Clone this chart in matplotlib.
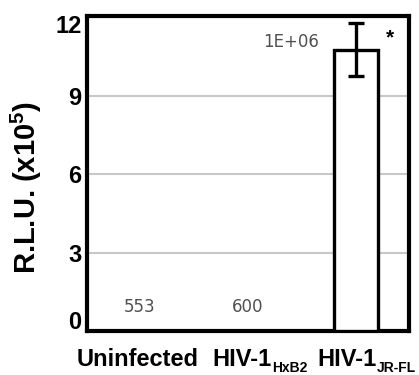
import matplotlib
matplotlib.use("Agg")
import matplotlib.pyplot as plt
import matplotlib.transforms as mtransforms

# Luciferase readout (R.L.U. x 10^5)
groups = ["Uninfected", "HIV-1", "HIV-1"]
group_subs = ["", "HxB2", "JR-FL"]
rlu = [553e-5, 600e-5, 10.75]
err_low = [0.0, 0.0, 1.0]
err_high = [0.0, 0.0, 1.05]
bar_labels = ["553", "600", "1E+06"]
y_ticks = [0, 3, 6, 9, 12]

plt.rcParams["font.family"] = ["Liberation Sans", "DejaVu Sans"]
plt.rcParams["mathtext.fontset"] = "custom"
plt.rcParams["mathtext.rm"] = "Liberation Sans:bold"
plt.rcParams["mathtext.bf"] = "Liberation Sans:bold"

fig = plt.figure(figsize=(4.19, 3.75), dpi=100)
ax = fig.add_axes([87 / 419, 1 - 331 / 375, 322 / 419, 315 / 375])

x = list(range(len(groups)))
ax.bar(x, rlu, width=0.4, color="white", edgecolor="black", linewidth=2.4, zorder=3)
ax.errorbar(x[2], rlu[2], yerr=[[err_low[2]], [err_high[2]]], fmt="none",
            ecolor="black", elinewidth=2.4, capsize=5.5, capthick=2.4, zorder=4)

# value labels in grey, as in the source figure
label_style = dict(ha="center", va="center", color="#505050", fontsize=12,
                   family="DejaVu Sans")
ax.text(x[0], 0.92, bar_labels[0], **label_style)
ax.text(x[1], 0.92, bar_labels[1], **label_style)
ax.text(x[2] - 0.6, 11.07, bar_labels[2], **label_style)
ax.text(x[2] + 0.31, 11.2, "*", ha="center", va="center", color="black",
        fontsize=15, fontweight="bold")

ax.set_xlim(-0.49, 2.49)
ax.set_ylim(0, 12.05)
ax.set_yticks(y_ticks)
ax.set_yticklabels([str(t) for t in y_ticks], fontsize=17, fontweight="bold")
ax.tick_params(length=0, pad=4)

# the end labels are nudged inside the frame, like the original export
fig.canvas.draw()
tick_labels = ax.get_yticklabels()
tick_labels[0].set_transform(tick_labels[0].get_transform()
                             + mtransforms.ScaledTranslation(0, 8 / 72, fig.dpi_scale_trans))
tick_labels[-1].set_transform(tick_labels[-1].get_transform()
                              + mtransforms.ScaledTranslation(0, -5 / 72, fig.dpi_scale_trans))

# category labels sit a bit right of the bars and nearly touch each other
ax.set_xticks([])
label_x = [-0.02, 0.667, 1.639]
label_ha = ["center", "left", "left"]
for xi, ha, name, sub in zip(label_x, label_ha, groups, group_subs):
    main = ax.text(xi, -0.111, name, transform=ax.get_xaxis_transform(), ha=ha,
                   va="baseline", fontsize=17, fontweight="bold", clip_on=False)
    if sub:
        ax.annotate(sub, xy=(1, 0), xycoords=main, xytext=(0.5, -0.6),
                    textcoords="offset points", ha="left", va="baseline",
                    fontsize=10, fontweight="bold")

ax.yaxis.grid(True, color="#c8c8c8", linewidth=1.5, zorder=0)
ax.set_axisbelow(True)
for spine in ax.spines.values():
    spine.set_linewidth(3)

ax.set_ylabel(r"R.L.U. (x10$^{\mathbf{5}}$)", fontsize=21, fontweight="bold")
ax.yaxis.set_label_coords(-0.134, 0.457)

fig.savefig("out.png", dpi=100)
